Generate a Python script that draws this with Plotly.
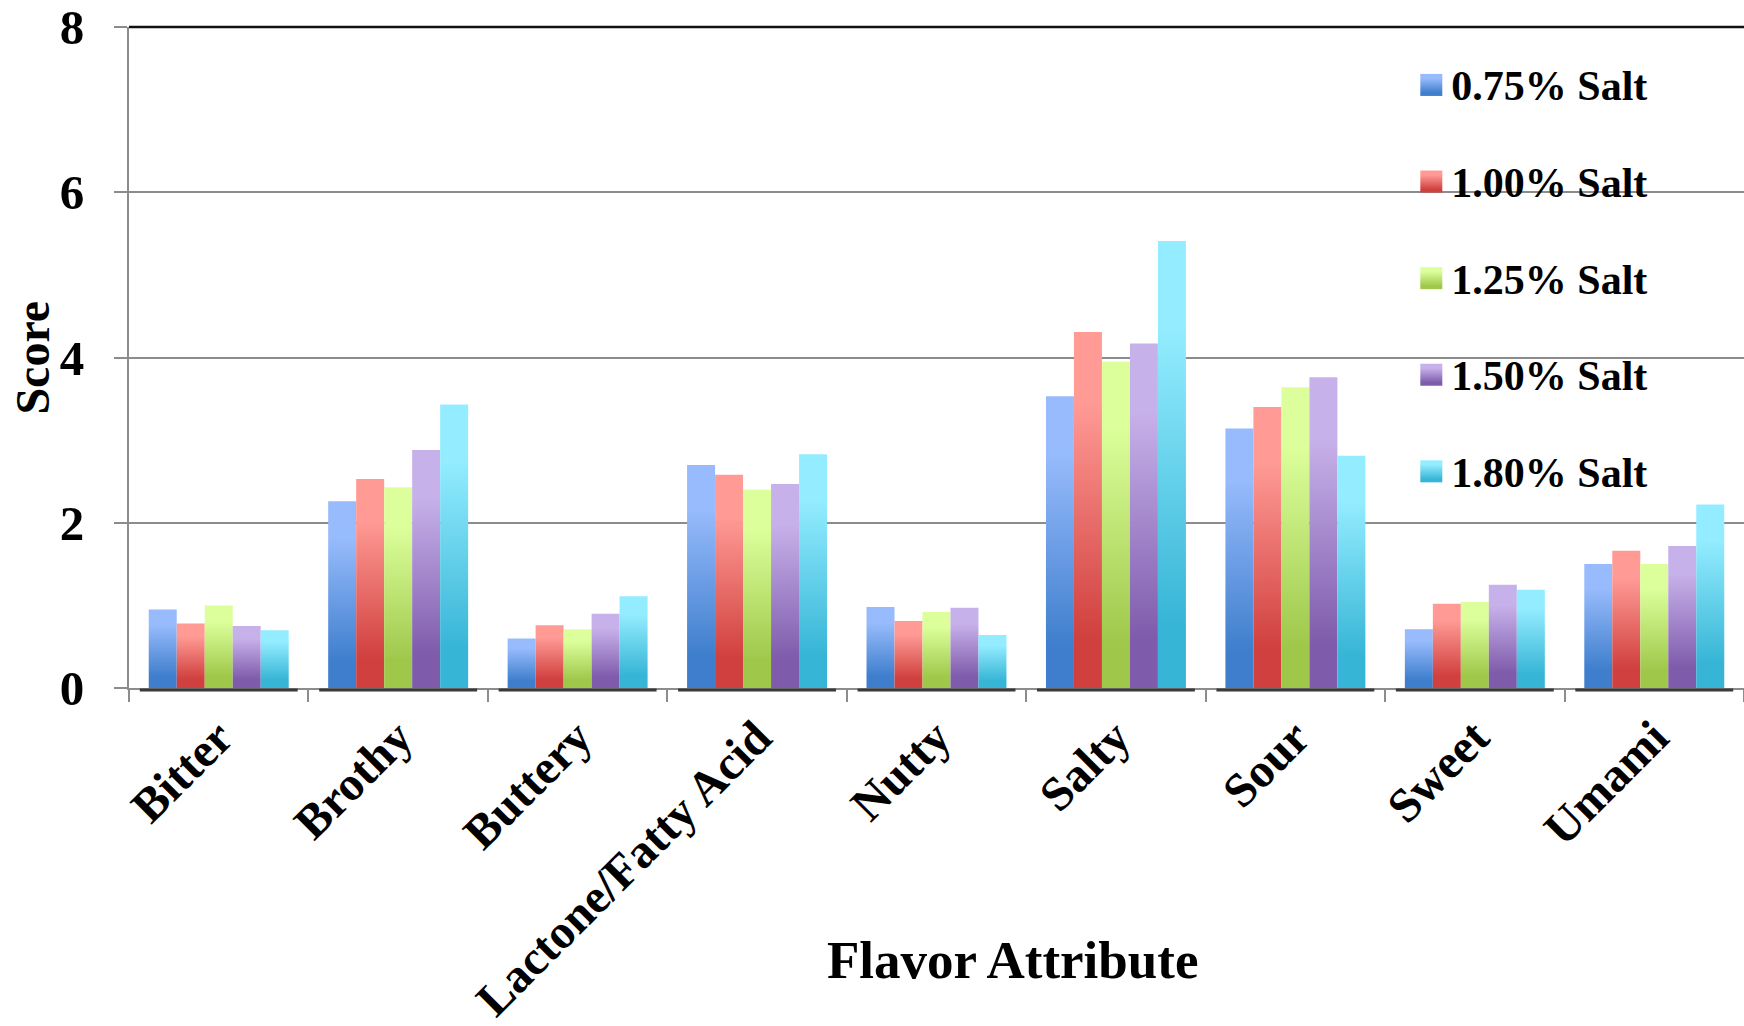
import json
import plotly.graph_objects as go

# Sensory panel scores by flavor attribute and salt level
categories = ["Bitter", "Brothy", "Buttery", "Lactone/Fatty Acid", "Nutty",
              "Salty", "Sour", "Sweet", "Umami"]
series_names = ["0.75% Salt", "1.00% Salt", "1.25% Salt", "1.50% Salt", "1.80% Salt"]
salt_075 = [0.95, 2.26, 0.60, 2.70, 0.98, 3.53, 3.14, 0.71, 1.50]
salt_100 = [0.78, 2.53, 0.76, 2.58, 0.81, 4.31, 3.40, 1.02, 1.66]
salt_125 = [1.00, 2.43, 0.71, 2.40, 0.92, 3.95, 3.64, 1.04, 1.50]
salt_150 = [0.75, 2.88, 0.90, 2.47, 0.97, 4.17, 3.76, 1.25, 1.72]
salt_180 = [0.70, 3.43, 1.11, 2.83, 0.64, 5.41, 2.81, 1.19, 2.22]
series_values = [salt_075, salt_100, salt_125, salt_150, salt_180]
y_ticks = [0, 2, 4, 6, 8]

# (top, bottom) colours of each bar's vertical shading
shades = [("#97bbfc", "#3e7ecc"),
          ("#ff9a95", "#d0403e"),
          ("#dcff9b", "#9fc84b"),
          ("#c7b1ea", "#7e5bab"),
          ("#93ecff", "#37b5d6")]
mid_colors = ["#6a9ee6", "#e86d6a", "#bfe474", "#a386ca", "#65d1ec"]

SERIF = "Liberation Serif"

fig = go.Figure()
for i, (name, vals) in enumerate(zip(series_names, series_values)):
    fig.add_trace(go.Bar(
        x=categories, y=vals, name=name,
        marker=dict(color=mid_colors[i], line=dict(width=0)),
        legendgroup=name,
    ))

# dark floor line under each group of bars
for idx, _ in enumerate(categories):
    fig.add_shape(type="line", xref="x", yref="paper",
                  x0=idx - 0.44, x1=idx + 0.44, y0=-0.003, y1=-0.003,
                  line=dict(color="#3a3a3a", width=3), layer="above")

# black frame edge along the top of the plot
fig.add_shape(type="line", xref="paper", yref="paper", x0=0, x1=1, y0=1, y1=1,
              line=dict(color="#111111", width=2.5), layer="above")

fig.add_annotation(text="Flavor Attribute", xref="paper", yref="paper",
                   x=0.547, y=-0.412, xanchor="center", yanchor="middle",
                   showarrow=False,
                   font=dict(family=SERIF, size=53, color="black", weight="bold"))
fig.add_annotation(text="Score", xref="paper", yref="paper",
                   x=-0.06, y=0.5, xanchor="center", yanchor="middle",
                   textangle=-90, showarrow=False,
                   font=dict(family=SERIF, size=48, color="black", weight="bold"))

fig.update_layout(
    width=1744, height=1026,
    margin=dict(l=129, r=0, t=27, b=338, autoexpand=False),
    paper_bgcolor="white", plot_bgcolor="white",
    barmode="group", bargap=0.22, bargroupgap=0,
    font=dict(family=SERIF, color="black"),
    showlegend=True,
    legend=dict(x=0.794, xanchor="left", y=0.965, yanchor="top",
                bgcolor="rgba(0,0,0,0)", borderwidth=0,
                tracegroupgap=39, traceorder="grouped",
                font=dict(family=SERIF, size=42, color="black", weight="bold")),
    xaxis=dict(
        type="category", range=[-0.5, 8.5], automargin=False,
        showline=True, linecolor="#8c8c8c", linewidth=2,
        ticks="outside", tickson="boundaries", ticklen=12, tickwidth=2,
        tickcolor="#8c8c8c", tickangle=-45, showgrid=False,
        tickfont=dict(family=SERIF, size=48, color="black", weight="bold"),
    ),
    yaxis=dict(
        range=[0, 8], tickvals=y_ticks, ticktext=[str(v) for v in y_ticks],
        automargin=False,
        showline=True, linecolor="#8c8c8c", linewidth=2,
        ticks="outside", ticklen=13, tickwidth=2, tickcolor="#8c8c8c",
        showgrid=True, gridcolor="#8c8c8c", gridwidth=2, zeroline=False,
        ticklabelstandoff=20,
        tickfont=dict(family=SERIF, size=49, color="black", weight="bold"),
    ),
)

# vertical colour shading of the bars and larger legend swatches
shade_script = """
var gd = document.getElementById('{plot_id}');
var shades = %s;
var ns = 'http://www.w3.org/2000/svg';
function paintBars() {
  var svg = gd.querySelector('svg.main-svg');
  var defs = svg.querySelector('defs');
  shades.forEach(function (c, i) {
    var id = 'barshade' + i;
    if (document.getElementById(id)) return;
    var g = document.createElementNS(ns, 'linearGradient');
    g.setAttribute('id', id);
    g.setAttribute('x1', '0'); g.setAttribute('y1', '0');
    g.setAttribute('x2', '0'); g.setAttribute('y2', '1');
    [[0, c[0]], [0.2, c[0]], [0.86, c[1]], [1, c[1]]].forEach(function (s) {
      var st = document.createElementNS(ns, 'stop');
      st.setAttribute('offset', s[0]);
      st.setAttribute('stop-color', s[1]);
      g.appendChild(st);
    });
    defs.appendChild(g);
  });
  gd.querySelectorAll('.barlayer .trace').forEach(function (tr, i) {
    tr.querySelectorAll('path').forEach(function (p) {
      p.style.fill = 'url(#barshade' + i + ')';
    });
  });
  gd.querySelectorAll('.legend .traces').forEach(function (tr, i) {
    var pts = tr.querySelector('.legendpoints');
    if (!pts) return;
    pts.querySelectorAll('path').forEach(function (p) { p.style.display = 'none'; });
    var sw = pts.querySelector('rect.swatch');
    if (!sw) {
      sw = document.createElementNS(ns, 'rect');
      sw.setAttribute('class', 'swatch');
      sw.setAttribute('x', '9'); sw.setAttribute('y', '-10');
      sw.setAttribute('width', '22'); sw.setAttribute('height', '22');
      pts.appendChild(sw);
    }
    sw.style.fill = 'url(#barshade' + i + ')';
  });
}
paintBars();
gd.on('plotly_afterplot', paintBars);
""" % json.dumps(shades)

fig.write_html("out.html", post_script=shade_script)
